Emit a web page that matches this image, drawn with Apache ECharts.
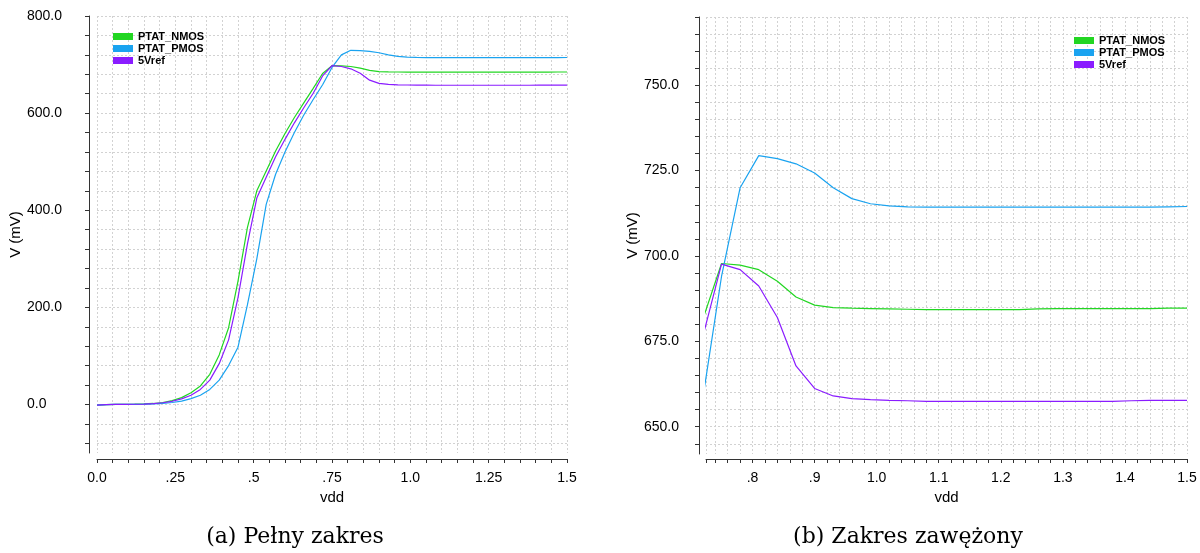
<!DOCTYPE html>
<html>
<head>
<meta charset="utf-8">
<title>PTAT vs vdd</title>
<script src="https://cdn.jsdelivr.net/npm/echarts@6/dist/echarts.min.js"></script>
<style>
html, body { margin: 0; padding: 0; background: #fff; }
#chart { width: 1200px; height: 553px; }
</style>
</head>
<body>
<div id="chart"></div>
<script>
// sweep of vdd (V), step 0.03
var vdd = [0, 0.03, 0.06, 0.09, 0.12, 0.15, 0.18, 0.21, 0.24, 0.27,
    0.30, 0.33, 0.36, 0.39, 0.42, 0.45, 0.48, 0.51, 0.54, 0.57,
    0.60, 0.63, 0.66, 0.69, 0.72, 0.75, 0.78, 0.81, 0.84, 0.87,
    0.90, 0.93, 0.96, 0.99, 1.02, 1.05, 1.08, 1.11, 1.14, 1.17,
    1.20, 1.23, 1.26, 1.29, 1.32, 1.35, 1.38, 1.41, 1.44, 1.47, 1.50];

// V (mV)
var ptatNmos = [-1.5, -0.5, 0, 0.2, 0.5, 1, 2, 4, 8, 14,
    24, 38, 62, 102, 158, 254, 364, 440, 481, 522,
    558, 591, 621, 651, 681.5, 697.8, 697.3, 696, 692.6, 688,
    685.6, 684.9, 684.7, 684.6, 684.5, 684.4, 684.3, 684.3, 684.3, 684.3,
    684.3, 684.3, 684.5, 684.6, 684.6, 684.6, 684.6, 684.6, 684.6, 684.7, 684.7];

var ptatPmos = [-1.5, -0.5, 0, 0.1, 0.3, 0.5, 1, 2, 4, 7,
    12, 19, 31, 50, 80, 118, 205, 300, 412, 474,
    520, 560, 596, 628, 658.5, 694, 720, 729.4, 728.5, 727,
    724.3, 720, 716.8, 715.3, 714.7, 714.4, 714.3, 714.3, 714.3, 714.3,
    714.3, 714.3, 714.3, 714.3, 714.3, 714.3, 714.3, 714.3, 714.3, 714.4, 714.5];

var vref5 = [-1.5, -0.5, 0, 0.2, 0.4, 0.8, 1.6, 3.5, 6.5, 11.5,
    19, 31, 50, 84, 133, 220, 330, 425, 468, 510,
    546, 580, 611, 641, 676.5, 697.6, 696, 691.2, 682, 667.8,
    661.2, 659, 658.2, 657.9, 657.7, 657.6, 657.4, 657.4, 657.4, 657.4,
    657.4, 657.4, 657.4, 657.4, 657.4, 657.4, 657.4, 657.6, 657.7, 657.7, 657.7];

var seriesNames = ['PTAT_NMOS', 'PTAT_PMOS', '5Vref'];
var seriesData = [ptatNmos, ptatPmos, vref5];
var colors = ['#22d622', '#1aa3f0', '#8a1cff'];

// tick labels
var xLabelValsA = [0, 0.25, 0.5, 0.75, 1.0, 1.25, 1.5];
var xLabelsA = ['0.0', '.25', '.5', '.75', '1.0', '1.25', '1.5'];
var xLabelValsB = [0.8, 0.9, 1.0, 1.1, 1.2, 1.3, 1.4, 1.5];
var xLabelsB = ['.8', '.9', '1.0', '1.1', '1.2', '1.3', '1.4', '1.5'];
var yLabelValsA = [0, 200, 400, 600, 800];
var yLabelValsB = [650, 675, 700, 725, 750];
var captions = ['(a) Pełny zakres', '(b) Zakres zawężony'];

function steps(a, b, d) {
    var out = [];
    for (var v = a; v <= b + 1e-9; v += d) out.push(Math.round(v * 1000) / 1000);
    return out;
}
function lookup(vals, labels) {
    return function (v) {
        for (var i = 0; i < vals.length; i++) {
            if (Math.abs(vals[i] - v) < 1e-6) return labels[i];
        }
        return '';
    };
}

var axisColor = '#333';
var gridLine = { show: true, lineStyle: { color: '#d2d2d2', type: [2, 2], width: 1 } };
var labelFont = { color: '#000', fontSize: 14, fontFamily: 'Liberation Sans' };

function xAxis(gi, min, max, ticks, labVals, labs, offset) {
    return {
        gridIndex: gi, type: 'value', min: min, max: max, offset: offset,
        name: 'vdd', nameLocation: 'middle', nameGap: 31,
        nameTextStyle: { color: '#000', fontSize: 15, fontFamily: 'Liberation Sans' },
        axisLine: { show: true, onZero: false, lineStyle: { color: axisColor } },
        axisTick: { show: true, length: 4, customValues: ticks, lineStyle: { color: axisColor } },
        axisLabel: Object.assign({ customValues: labVals, formatter: lookup(labVals, labs), margin: 12 }, labelFont),
        splitLine: gridLine
    };
}
function yAxis(gi, min, max, ticks, labVals, offset, margin, nameGap) {
    return {
        gridIndex: gi, type: 'value', min: min, max: max, offset: offset,
        name: 'V (mV)', nameLocation: 'middle', nameGap: nameGap,
        nameTextStyle: { color: '#000', fontSize: 15, fontFamily: 'Liberation Sans' },
        axisLine: { show: true, onZero: false, lineStyle: { color: axisColor } },
        axisTick: { show: true, length: 4, customValues: ticks, lineStyle: { color: axisColor } },
        axisLabel: Object.assign({
            customValues: labVals, align: 'left', margin: margin,
            formatter: function (v) { return v.toFixed(1); }
        }, labelFont),
        splitLine: gridLine
    };
}
function legend(left, top) {
    return {
        data: seriesNames, orient: 'vertical', left: left, top: top, padding: 0,
        itemWidth: 20, itemHeight: 7, itemGap: 1, icon: 'rect',
        textStyle: { color: '#000', fontSize: 11, fontWeight: 'bold', lineHeight: 11, fontFamily: 'Liberation Sans' }
    };
}

var series = [];
[0, 1].forEach(function (gi) {
    seriesNames.forEach(function (name, k) {
        series.push({
            name: name, type: 'line', xAxisIndex: gi, yAxisIndex: gi,
            data: vdd.map(function (x, i) { return [x, seriesData[k][i]]; }),
            showSymbol: false, clip: true,
            lineStyle: { width: 1.2, color: colors[k] },
            itemStyle: { color: colors[k] }
        });
    });
});

var chart = echarts.init(document.getElementById('chart'));
chart.setOption({
    animation: false,
    backgroundColor: '#fff',
    grid: [
        { left: 97, right: 633, top: 16, bottom: 100 },
        { left: 706, right: 13, top: 17, bottom: 99 }
    ],
    legend: [legend(113, 31), legend(1074, 35)],
    xAxis: [
        xAxis(0, 0, 1.5, steps(0, 1.5, 0.05), xLabelValsA, xLabelsA, 6),
        xAxis(1, 0.725, 1.5, [0.725].concat(steps(0.74, 1.5, 0.02)), xLabelValsB, xLabelsB, 5)
    ],
    yAxis: [
        yAxis(0, -100, 800, steps(-80, 800, 40), yLabelValsA, 8, 62, 47),
        yAxis(1, 642, 770, steps(645, 770, 5), yLabelValsB, 7, 55, 57)
    ],
    series: series,
    graphic: [
        { type: 'text', x: 295, y: 537, style: { text: captions[0], font: '22px "DejaVu Serif"', fill: '#000', align: 'center', verticalAlign: 'middle' } },
        { type: 'text', x: 908, y: 537, style: { text: captions[1], font: '22px "DejaVu Serif"', fill: '#000', align: 'center', verticalAlign: 'middle' } }
    ]
});
</script>
</body>
</html>
